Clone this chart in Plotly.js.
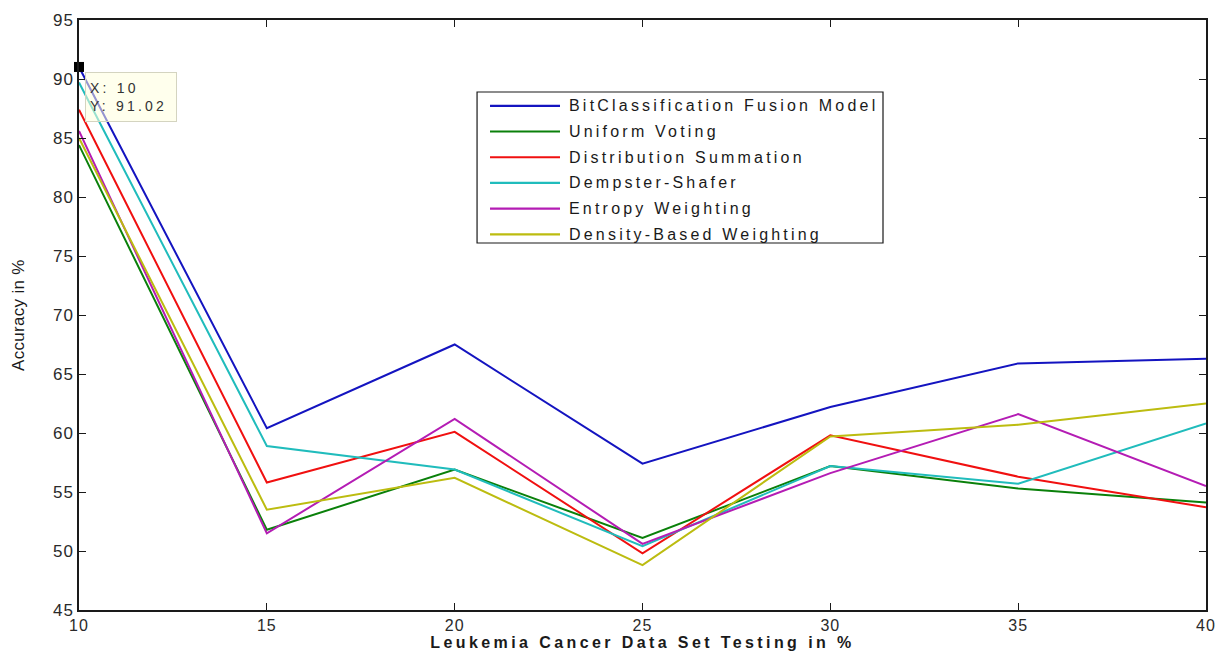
<!DOCTYPE html>
<html>
<head>
<meta charset="utf-8">
<script src="https://cdn.plot.ly/plotly-3.0.1.min.js"></script>
<style>
  html, body { margin: 0; padding: 0; background: #ffffff; }
  #chart { width: 1217px; height: 654px; }
  .xtitle { letter-spacing: 3.4px; }
  .xtick text, .ytick text { letter-spacing: 1px; }
  g.annotation text { letter-spacing: 3.2px; }
  g.annotation[data-index="7"] text { letter-spacing: 0.3px; }
</style>
</head>
<body>
<div id="chart"></div>
<script>
// Testing share of the Leukemia data set (%)
const testingPct = [10, 15, 20, 25, 30, 35, 40];

// Accuracy (%) of each fusion method
const bitClassification = [91.02, 60.4, 67.5, 57.4, 62.2, 65.9, 66.3];
const uniformVoting     = [84.4, 51.8, 56.9, 51.1, 57.2, 55.3, 54.1];
const distributionSum   = [87.4, 55.8, 60.1, 49.8, 59.8, 56.3, 53.7];
const dempsterShafer    = [89.7, 58.9, 56.9, 50.4, 57.2, 55.7, 60.8];
const entropyWeighting  = [85.6, 51.5, 61.2, 50.6, 56.6, 61.6, 55.5];
const densityWeighting  = [85.0, 53.5, 56.2, 48.8, 59.7, 60.7, 62.5];

const seriesNames = [
  'BitClassification Fusion Model',
  'Uniform Voting',
  'Distribution Summation',
  'Dempster-Shafer',
  'Entropy Weighting',
  'Density-Based Weighting'
];
const seriesValues = [bitClassification, uniformVoting, distributionSum,
                      dempsterShafer, entropyWeighting, densityWeighting];
const seriesColors = ['#1414c0', '#0a800a', '#f01010', '#20bcbc', '#b41cb4', '#bcbc10'];

// Highlighted point (data cursor)
const tipX = [10];
const tipY = [91.02];

const xTicks = [10, 15, 20, 25, 30, 35, 40];
const yTicks = [45, 50, 55, 60, 65, 70, 75, 80, 85, 90, 95];

const xTitle = 'Leukemia Cancer Data Set Testing in %';
const yTitle = 'Accuracy in %';

const traces = seriesNames.map((name, i) => ({
  type: 'scatter',
  mode: 'lines',
  name: name,
  x: testingPct,
  y: seriesValues[i],
  line: { color: seriesColors[i], width: 2 },
  cliponaxis: false,
  hoverinfo: 'x+y+name'
}));

traces.push({
  type: 'scatter',
  mode: 'markers',
  x: tipX,
  y: tipY,
  marker: { symbol: 'square', size: 10, color: '#000000' },
  cliponaxis: false,
  showlegend: false,
  hoverinfo: 'x+y'
});

// Boxed legend drawn in the upper middle of the axes
const legendBox = { x0: 0.3532, x1: 0.7134, y0: 0.622, y1: 0.878 };
const legendLineX = [0.3647, 0.4268];
const legendTextX = 0.4339;
const legendTopY = 0.8546;
const legendRowStep = 0.0436;

const shapes = [{
  type: 'rect', xref: 'paper', yref: 'paper',
  x0: legendBox.x0, x1: legendBox.x1, y0: legendBox.y0, y1: legendBox.y1,
  line: { color: '#1a1a1a', width: 1.2 }, fillcolor: '#ffffff', layer: 'above'
}];
const annotations = [];
seriesNames.forEach((name, i) => {
  const yy = legendTopY - i * legendRowStep;
  shapes.push({
    type: 'line', xref: 'paper', yref: 'paper',
    x0: legendLineX[0], x1: legendLineX[1], y0: yy, y1: yy,
    line: { color: seriesColors[i], width: 2.2 }, layer: 'above'
  });
  annotations.push({
    xref: 'paper', yref: 'paper', x: legendTextX, y: yy,
    xanchor: 'left', yanchor: 'middle', showarrow: false, align: 'left',
    text: name, borderpad: 0,
    font: { family: 'Liberation Sans, Arial, sans-serif', size: 16, color: '#1a1a1a' }
  });
});

// Data-cursor tip box (translucent, the curves show through it)
annotations.push({
  xref: 'x', yref: 'y', x: tipX[0], y: tipY[0],
  xanchor: 'left', yanchor: 'top', xshift: 6, yshift: -5,
  showarrow: false, align: 'left',
  text: 'X: ' + tipX[0] + '<br>Y: ' + tipY[0].toFixed(2),
  width: 82, height: 40,
  bgcolor: 'rgba(255,255,222,0.55)', bordercolor: '#d4d4c0', borderwidth: 1, borderpad: 4,
  font: { family: 'Liberation Sans, Arial, sans-serif', size: 14, color: '#333333' }
});

// Vertical axis label, set close to the figure's left edge
annotations.push({
  xref: 'paper', yref: 'paper', x: 0, y: 0.5, xshift: -61,
  xanchor: 'center', yanchor: 'middle', textangle: -90, showarrow: false,
  text: yTitle,
  font: { family: 'Liberation Sans Narrow, Liberation Sans, Arial, sans-serif', size: 17, color: '#1a1a1a' }
});

const axisCommon = {
  showgrid: false, zeroline: false,
  showline: true, mirror: 'ticks',
  linecolor: '#1a1a1a', linewidth: 1.5,
  ticks: 'inside', ticklen: 7, tickwidth: 1.3, tickcolor: '#1a1a1a',
  tickfont: { family: 'Liberation Sans, Arial, sans-serif', size: 17, color: '#2a2a2a' }
};

const layout = {
  width: 1217, height: 654,
  margin: { l: 79, r: 11, t: 20, b: 44 },
  paper_bgcolor: '#ffffff', plot_bgcolor: '#ffffff',
  showlegend: false,
  xaxis: Object.assign({}, axisCommon, {
    range: [10, 40], tickvals: xTicks, ticktext: xTicks.map(String),
    ticklabelstandoff: 0,
    tickfont: { family: 'Liberation Sans, Arial, sans-serif', size: 16, color: '#2a2a2a' },
    title: {
      text: xTitle,
      font: { family: 'Liberation Sans, Arial, sans-serif', size: 16, color: '#1a1a1a', weight: 'bold' },
      standoff: 2
    }
  }),
  yaxis: Object.assign({}, axisCommon, {
    range: [45, 95], tickvals: yTicks, ticktext: yTicks.map(String)
  }),
  shapes: shapes,
  annotations: annotations
};

Plotly.newPlot('chart', traces, layout, { displayModeBar: false, responsive: false });
</script>
</body>
</html>
